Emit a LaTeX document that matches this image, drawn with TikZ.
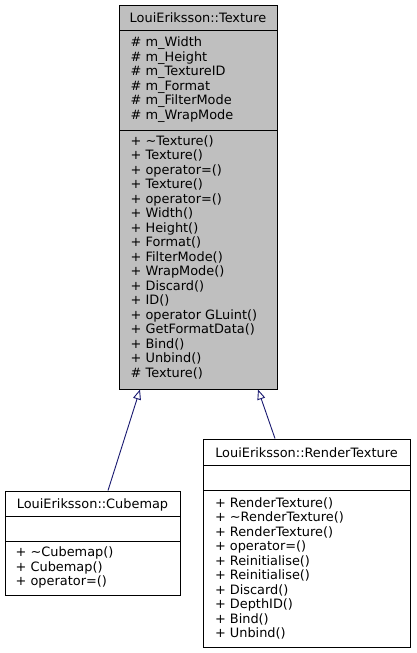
\documentclass[tikz,border=0pt]{standalone}
\usepackage{fontspec}
\setmainfont{DejaVu Sans}
\usetikzlibrary{arrows.meta,calc}
\definecolor{boxgray}{HTML}{BFBFBF}
\definecolor{edgeblue}{HTML}{191970}
\tikzset{
  umlbox/.style={draw=black, line width=1pt, inner sep=0pt, fill=white},
  txt/.style={anchor=base west, inner sep=0pt, font=\fontsize{12.9}{14}\selectfont},
  ttl/.style={anchor=base, inner sep=0pt, font=\fontsize{12.9}{14}\selectfont},
  sep/.style={draw=black, line width=1pt},
  inherit/.style={draw=edgeblue, line width=0.9pt, -{Triangle[open, length=10pt, width=8pt, fill=white]}}
}
\begin{document}
\begin{tikzpicture}[x=1pt, y=-1pt]
\useasboundingbox (0,0) rectangle (416,653);
% Texture
\node[umlbox, fill=boxgray, minimum width=158pt, minimum height=384pt] (tex) at (198,197) {};
\draw[sep] (119,30) -- (277,30);
\draw[sep] (119,130) -- (277,130);
\node[ttl] (t0) at (198,22) {LouiEriksson::Texture};
\foreach \t [count=\i from 0] in {\# m\_Width,\# m\_Height,\# m\_TextureID,\# m\_Format,\# m\_FilterMode,\# m\_WrapMode}
  \node[txt] (ta\i) at (130.5,{46.5+14.6*\i}) {\t};
\foreach \t [count=\i from 0] in {+ \textasciitilde Texture(),+ Texture(),+ operator=(),+ Texture(),+ operator=(),+ Width(),+ Height(),+ Format(),+ FilterMode(),+ WrapMode(),+ Discard(),+ ID(),+ operator GLuint(),+ GetFormatData(),+ Bind(),+ Unbind(),\# Texture()}
  \node[txt] (tm\i) at (130.5,{145+14.5*\i}) {\t};
% Cubemap
\node[umlbox, minimum width=175pt, minimum height=104pt] (cube) at (92.5,543) {};
\draw[sep] (5,516) -- (180,516);
\draw[sep] (5,541) -- (180,541);
\node[ttl] (c0) at (92.5,508) {LouiEriksson::Cubemap};
\foreach \t [count=\i from 0] in {+ \textasciitilde Cubemap(),+ Cubemap(),+ operator=()}
  \node[txt] (cm\i) at (15.5,{556.5+14.5*\i}) {\t};
% RenderTexture
\node[umlbox, minimum width=207pt, minimum height=208pt] (rt) at (306.5,543) {};
\draw[sep] (203,465) -- (410,465);
\draw[sep] (203,490) -- (410,490);
\node[ttl] (r0) at (306.5,457) {LouiEriksson::RenderTexture};
\foreach \t [count=\i from 0] in {+ RenderTexture(),+ \textasciitilde RenderTexture(),+ RenderTexture(),+ operator=(),+ Reinitialise(),+ Reinitialise(),+ Discard(),+ DepthID(),+ Bind(),+ Unbind()}
  \node[txt] (rm\i) at (214.8,{507+14.5*\i}) {\t};
% inheritance
\draw[inherit] ($(cube.north)+(15.5,0)$) -- ($(tex.south)+(-58,0)$);
\draw[inherit] ($(rt.north)+(-31.5,0)$) -- ($(tex.south)+(60,0)$);
\end{tikzpicture}
\end{document}
